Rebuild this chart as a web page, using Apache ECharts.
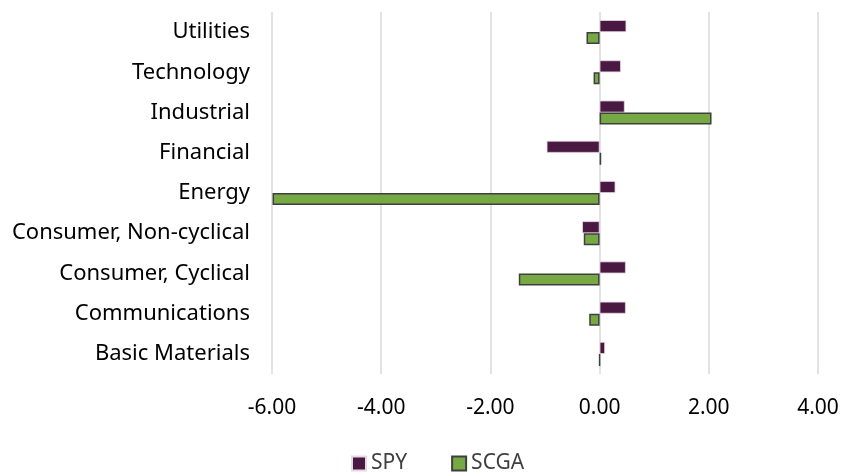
<!DOCTYPE html>
<html>
<head>
<meta charset="utf-8">
<script src="https://cdn.jsdelivr.net/npm/echarts@6/dist/echarts.min.js"></script>
<style>
  html, body { margin: 0; padding: 0; background: #fff; }
  #chart { width: 842px; height: 474px; }
</style>
</head>
<body>
<div id="chart"></div>
<script>
// sectors, bottom to top
var sectors = ['Basic Materials', 'Communications', 'Consumer, Cyclical', 'Consumer, Non-cyclical',
  'Energy', 'Financial', 'Industrial', 'Technology', 'Utilities']
var spy = [0.10, 0.48, 0.48, -0.32, 0.29, -0.97, 0.46, 0.39, 0.49]
var scga = [0.00, -0.19, -1.48, -0.29, -5.99, 0.03, 2.05, -0.11, -0.24]
var xTicks = { min: -6, max: 4, step: 2 }

var chart = echarts.init(document.getElementById('chart'))
var font = 'Noto Sans'

chart.setOption({
  animation: false,
  textStyle: { fontFamily: font },
  grid: { left: 272, right: 24, top: 12, bottom: 100 },
  legend: {
    top: 453,
    left: 351,
    padding: 0,
    icon: 'rect',
    itemWidth: 14,
    itemHeight: 14,
    itemGap: 44,
    data: ['SPY', 'SCGA'],
    textStyle: { fontSize: 21, color: '#404040' }
  },
  xAxis: {
    type: 'value',
    min: xTicks.min,
    max: xTicks.max,
    interval: xTicks.step,
    axisLine: { show: false },
    axisTick: { show: false },
    axisLabel: {
      fontSize: 21, color: '#000', margin: 24,
      formatter: function (v) { return v.toFixed(2) }
    },
    splitLine: { lineStyle: { color: '#d9d9d9', width: 1.5 } }
  },
  yAxis: {
    type: 'category',
    data: sectors,
    axisLine: { show: false },
    axisTick: { show: false },
    axisLabel: { fontSize: 22, color: '#000', margin: 22 }
  },
  series: [{
    name: 'SPY',
    type: 'bar',
    data: spy,
    barWidth: 12,
    barGap: '0%',
    itemStyle: { color: '#4a1942', borderColor: '#e8d8e6', borderWidth: 0.8 }
  }, {
    name: 'SCGA',
    type: 'bar',
    data: scga,
    barWidth: 12,
    barGap: '0%',
    itemStyle: { color: '#76a844', borderColor: '#3f3f3f', borderWidth: 1.5 }
  }]
})
</script>
</body>
</html>
